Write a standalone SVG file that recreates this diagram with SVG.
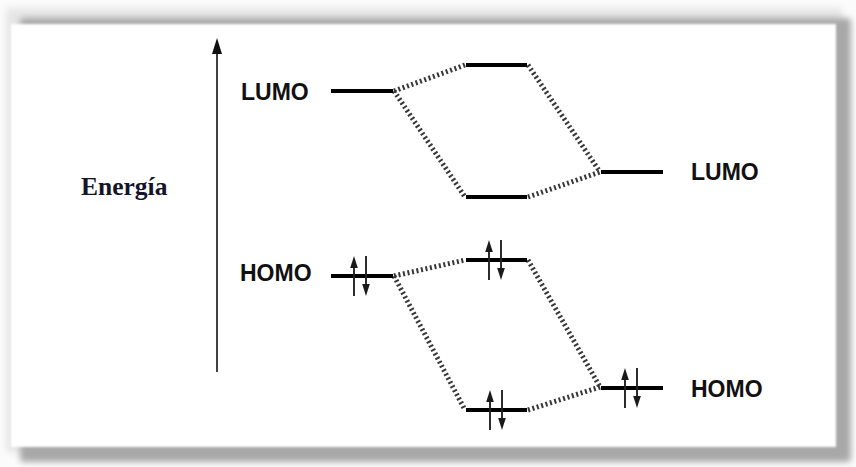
<svg xmlns="http://www.w3.org/2000/svg" width="856" height="467" viewBox="0 0 856 467">
  <style>
    .level { stroke: #000; stroke-width: 4; fill: none; }
    .link { stroke: #383838; stroke-width: 5; stroke-dasharray: 2 2.6; fill: none; }
    .spin { stroke: #222; stroke-width: 1.9; fill: none; }
    .head { fill: #1a1a1a; }
    .label { font-family: "Liberation Sans", Arial, sans-serif; font-weight: bold; font-size: 23px; fill: #111; }
    .axis-label { font-family: "Liberation Serif", "Times New Roman", serif; font-weight: bold; font-size: 25.5px; fill: #14142a; }
  </style>
  <defs>
    <filter id="soft" x="-10%" y="-10%" width="120%" height="120%">
      <feGaussianBlur stdDeviation="3"/>
    </filter>
    <filter id="edge" x="-5%" y="-5%" width="110%" height="110%">
      <feGaussianBlur stdDeviation="1.2"/>
    </filter>
    <!-- paired electrons: up arrow on the left, down arrow on the right -->
    <g id="spin-pair">
      <line class="spin" x1="-6" y1="20" x2="-6" y2="-10"/>
      <path class="head" d="M-6,-20 L-9.8,-8 L-2.2,-8 Z"/>
      <line class="spin" x1="6" y1="-20" x2="6" y2="10"/>
      <path class="head" d="M6,20 L2.2,8 L9.8,8 Z"/>
    </g>
  </defs>

  <!-- card background with soft frame and drop shadow -->
  <rect x="0" y="0" width="856" height="467" fill="#fbfbfb"/>
  <rect x="6" y="8" width="836" height="444" fill="#e6e6e6" filter="url(#soft)"/>
  <rect x="20" y="18" width="831" height="444" rx="4" fill="#a8a8a8" filter="url(#soft)"/>
  <rect x="11" y="24" width="825" height="423" fill="#ffffff" filter="url(#edge)"/>

  <!-- energy axis -->
  <g id="axis">
    <line x1="217" y1="372" x2="217" y2="50" stroke="#111" stroke-width="1.6"/>
    <path d="M217,38 L212,54 L222,54 Z" fill="#111"/>
    <text class="axis-label" x="81" y="195">Energía</text>
  </g>

  <!-- connectors between levels -->
  <g id="connectors">
    <line class="link" x1="394" y1="91" x2="465" y2="65"/>
    <line class="link" x1="394" y1="91" x2="465" y2="197"/>
    <line class="link" x1="528" y1="65" x2="600" y2="172"/>
    <line class="link" x1="528" y1="197" x2="600" y2="172"/>
    <line class="link" x1="394" y1="276" x2="465" y2="260"/>
    <line class="link" x1="394" y1="276" x2="465" y2="410"/>
    <line class="link" x1="528" y1="260" x2="600" y2="387"/>
    <line class="link" x1="528" y1="410" x2="600" y2="387"/>
  </g>

  <!-- left molecule -->
  <g id="left-lumo">
    <line class="level" x1="331" y1="91" x2="393" y2="91"/>
    <text class="label" x="241" y="100">LUMO</text>
  </g>
  <g id="left-homo">
    <line class="level" x1="331" y1="276" x2="393" y2="276"/>
    <use href="#spin-pair" x="360" y="276"/>
    <text class="label" x="240" y="281">HOMO</text>
  </g>

  <!-- combined levels -->
  <g id="mid-upper">
    <line class="level" x1="466" y1="65" x2="527" y2="65"/>
  </g>
  <g id="mid-lower">
    <line class="level" x1="466" y1="197" x2="527" y2="197"/>
  </g>
  <g id="mid-homo-upper">
    <line class="level" x1="466" y1="260" x2="527" y2="260"/>
    <use href="#spin-pair" x="495" y="260"/>
  </g>
  <g id="mid-homo-lower">
    <line class="level" x1="466" y1="410" x2="527" y2="410"/>
    <use href="#spin-pair" x="496" y="410"/>
  </g>

  <!-- right molecule -->
  <g id="right-lumo">
    <line class="level" x1="601" y1="172" x2="663" y2="172"/>
    <text class="label" x="691" y="180">LUMO</text>
  </g>
  <g id="right-homo">
    <line class="level" x1="601" y1="388" x2="663" y2="388"/>
    <use href="#spin-pair" x="631" y="388"/>
    <text class="label" x="691" y="397">HOMO</text>
  </g>
</svg>
